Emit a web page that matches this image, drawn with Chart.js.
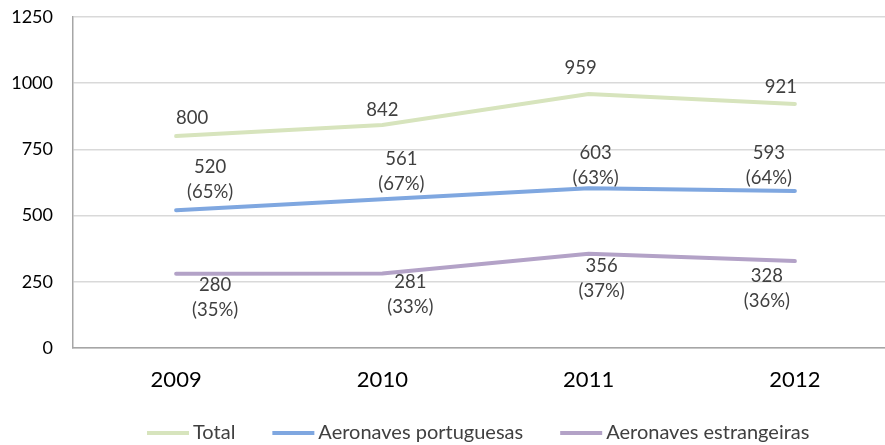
<!DOCTYPE html>
<html>
<head>
<meta charset="utf-8">
<script src="https://cdn.jsdelivr.net/npm/chart.js@4/dist/chart.umd.min.js"></script>
<style>
  html, body { margin: 0; padding: 0; background: #fff; overflow: hidden; }
  #wrap { width: 898px; height: 445px; }
</style>
</head>
<body>
<div id="wrap"><canvas id="lineChart"></canvas></div>
<script>
// data
var years = ['2009', '2010', '2011', '2012'];
var total = [800, 842, 959, 921];
var portuguesas = [520, 561, 603, 593];
var estrangeiras = [280, 281, 356, 328];
var pctPortuguesas = ['65%', '67%', '63%', '64%'];
var pctEstrangeiras = ['35%', '33%', '37%', '36%'];
var yTicks = [0, 250, 500, 750, 1000, 1250];

var FONT = 'Lato, "Open Sans", sans-serif';

// label nudges [dx, dy] in px from the point, the source had hand-placed labels
// dy is the centre of the first text line
var nudges = [
    [[16, -18], [0, -15], [-8, -26], [-14, -17]],
    [[34, -43], [19, -40], [7, -35], [-26, -38]],
    [[39, 11], [28, 8], [13, 12], [-28, 15]]
];
var pctLists = [null, pctPortuguesas, pctEstrangeiras];

var labelPlugin = {
    id: 'pointLabels',
    afterDatasetsDraw: function(chart) {
        var ctx = chart.ctx;
        ctx.save();
        ctx.font = '18.5px ' + FONT;
        ctx.fillStyle = '#404040';
        ctx.textAlign = 'center';
        ctx.textBaseline = 'middle';
        chart.data.datasets.forEach(function(ds, di) {
            var meta = chart.getDatasetMeta(di);
            meta.data.forEach(function(pt, i) {
                var x = pt.x + nudges[di][i][0];
                var y = pt.y + nudges[di][i][1];
                ctx.fillText(String(ds.data[i]), x, y);
                if (pctLists[di]) {
                    ctx.fillText('(' + pctLists[di][i] + ')', x, y + 25);
                }
            });
        });
        ctx.restore();
    }
};

// legend drawn like the office one: short line, tight text
var legendPlugin = {
    id: 'bottomLegend',
    afterDraw: function(chart) {
        var ctx = chart.ctx;
        var x = 147, y = 433;
        ctx.save();
        ctx.font = '20px ' + FONT;
        ctx.textBaseline = 'middle';
        ctx.textAlign = 'left';
        chart.data.datasets.forEach(function(ds) {
            ctx.strokeStyle = ds.borderColor;
            ctx.lineWidth = 4;
            ctx.beginPath();
            ctx.moveTo(x, y);
            ctx.lineTo(x + 42, y);
            ctx.stroke();
            ctx.fillStyle = '#404040';
            ctx.fillText(ds.label, x + 46, y);
            x += 46 + ctx.measureText(ds.label).width + 37;
        });
        ctx.restore();
    }
};

var canvas = document.getElementById('lineChart');
var chart = new Chart(canvas, {
    type: 'line',
    data: {
        labels: years,
        datasets: [
            { label: 'Total', data: total, borderColor: '#d7e4bd', backgroundColor: '#d7e4bd' },
            { label: 'Aeronaves portuguesas', data: portuguesas, borderColor: '#7fa7e0', backgroundColor: '#7fa7e0' },
            { label: 'Aeronaves estrangeiras', data: estrangeiras, borderColor: '#b3a2c7', backgroundColor: '#b3a2c7' }
        ]
    },
    options: {
        responsive: true,
        maintainAspectRatio: false,
        animation: false,
        layout: { padding: { top: 0, right: 0, left: 0, bottom: 37 } },
        elements: {
            line: { borderWidth: 4, tension: 0, borderCapStyle: 'round' },
            point: { radius: 0, hoverRadius: 0 }
        },
        plugins: {
            legend: { display: false },
            tooltip: { enabled: false }
        },
        scales: {
            x: {
                offset: true,
                grid: { display: false },
                border: { color: '#a6a6a6', width: 1.5 },
                ticks: { font: { size: 22, family: FONT }, color: '#000', padding: 11 },
                afterFit: function(scale) { scale.height = 60; }
            },
            y: {
                min: 0,
                max: 1250,
                afterBuildTicks: function(scale) {
                    scale.ticks = yTicks.map(function(v) { return { value: v }; });
                },
                grid: { color: '#d9d9d9', lineWidth: 1.5, drawTicks: true, tickLength: 14, tickColor: 'rgba(0,0,0,0)' },
                border: { color: '#a6a6a6', width: 1.5 },
                ticks: {
                    font: { size: 18, family: FONT }, color: '#000', padding: 6,
                    callback: function(v) { return String(v); }
                },
                afterFit: function(scale) { scale.width = 73; }
            }
        }
    },
    plugins: [labelPlugin, legendPlugin]
});
</script>
</body>
</html>
